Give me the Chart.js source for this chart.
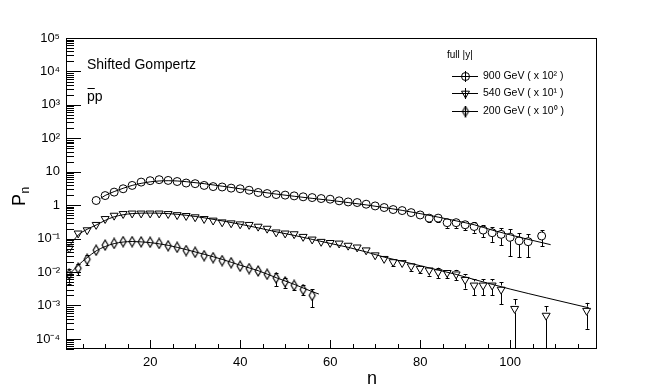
<!DOCTYPE html>
<html><head><meta charset="utf-8">
<script src="https://cdn.jsdelivr.net/npm/chart.js@4/dist/chart.umd.min.js"></script>
<style>html,body{margin:0;padding:0;background:#fff;}#wrap{width:664px;height:388px;}</style>
</head><body><div id="wrap"><canvas id="c" width="664" height="388"></canvas></div>
<script>
// ---- data ----
const n900 = [8,10,12,14,16,18,20,22,24,26,28,30,32,34,36,38,40,42,44,46,48,50,52,54,56,58,60,62,64,66,68,70,72,74,76,78,80,82,84,86,88,90,92,94,96,98,100,102,104,107];
const p900 = [1.38,1.94,2.46,3.1,3.9,4.9,5.4,5.8,5.5,5.1,4.6,4.4,3.9,3.6,3.5,3.24,3.1,2.8,2.4,2.23,2.08,2.0,1.9,1.78,1.69,1.58,1.51,1.35,1.25,1.2,1.07,0.95,0.85,0.74,0.69,0.60,0.51,0.41,0.41,0.30,0.30,0.26,0.23,0.18,0.15,0.134,0.11,0.086,0.081,0.12];
const e900 = [0,0,0,0,0,0,0,0,0,0,0,0,0,0,0,0,0,0,0,0,0,0,0,0,0,0,0,0,0,0,0,0,0,0,0,0,0.06,0.1,0.1,0.09,0.09,0.08,0.08,0.07,0.07,0.07,0.08,0.058,0.053,0.06];

const n540 = [2,4,6,8,10,12,14,16,18,20,22,24,26,28,30,32,34,36,38,40,42,44,46,48,50,52,54,56,58,60,62,64,66,68,70,72,74,76,78,80,82,84,86,88,90,92,94,96,98,101,108,117];
const p540 = [0.051,0.144,0.18,0.26,0.39,0.49,0.55,0.57,0.57,0.57,0.57,0.55,0.51,0.48,0.44,0.39,0.35,0.31,0.29,0.27,0.26,0.23,0.20,0.155,0.144,0.137,0.114,0.095,0.081,0.075,0.072,0.062,0.055,0.045,0.032,0.025,0.020,0.0188,0.015,0.0126,0.0113,0.010,0.0095,0.0086,0.0059,0.0040,0.0040,0.0040,0.0030,0.0008,0.0005,0.0007];
const e540 = [0.008,0,0,0,0,0,0,0,0,0,0,0,0,0,0,0,0,0,0,0,0,0,0,0,0,0,0,0,0,0,0,0,0,0,0,0.003,0.005,0.004,0.004,0.0035,0.0035,0.0035,0.003,0.003,0.0027,0.002,0.002,0.002,0.0019,0.00075,0.00045,0.0005];

const n200 = [2,4,6,8,10,12,14,16,18,20,22,24,26,28,30,32,34,36,38,40,42,44,46,48,50,52,54,56];
const p200 = [0.0085,0.013,0.024,0.045,0.064,0.072,0.081,0.081,0.080,0.078,0.072,0.061,0.055,0.044,0.039,0.031,0.027,0.022,0.019,0.015,0.0127,0.0108,0.0086,0.0067,0.0051,0.0040,0.0030,0.0020];
const e200 = [0.004,0.005,0.008,0,0,0,0,0,0,0,0,0,0,0,0,0,0,0,0,0,0,0.001,0.002,0.003,0.0017,0.0011,0.001,0.0011];

// fitted curves (shifted Gompertz)
const fitN900 = [9,10,12,14,16,18,20,22,24,26,28,32,36,40,44,48,52,56,60,64,68,72,76,80,84,88,92,96,100,104,109];
const fitP900 = [1.6,1.95,2.55,3.2,3.9,4.5,5.0,5.3,5.4,5.3,5.05,4.4,3.7,3.1,2.55,2.15,1.85,1.6,1.4,1.2,1.02,0.85,0.70,0.56,0.44,0.34,0.26,0.18,0.13,0.095,0.066];
const fitN540 = [1.5,2,4,6,8,10,12,16,20,24,28,32,36,40,44,48,52,56,60,64,68,72,76,80,84,88,92,96,100,108,117.5];
const fitP540 = [0.058,0.062,0.128,0.19,0.255,0.35,0.45,0.56,0.58,0.56,0.50,0.42,0.34,0.27,0.21,0.16,0.125,0.095,0.072,0.055,0.040,0.028,0.021,0.0155,0.0115,0.0085,0.006,0.0043,0.0031,0.0017,0.00085];
const fitN200 = [1.5,2,4,6,8,10,12,14,16,18,20,24,28,32,36,40,44,48,52,56,57.5];
const fitP200 = [0.0075,0.0085,0.016,0.027,0.043,0.058,0.071,0.079,0.082,0.080,0.076,0.063,0.047,0.034,0.024,0.016,0.011,0.0068,0.0043,0.0026,0.0022];

const xTicks = [20,40,60,80,100];
const yDecades = [-4,-3,-2,-1,0,1,2,3,4,5];
const legendLabels = ['900 GeV ( x 10² )','540 GeV ( x 10¹ )','200 GeV ( x 10⁰ )'];
const legendHeader = 'full |y|';
const titleText = 'Shifted Gompertz';
const X_MIN = 1.3, X_MAX = 119.3, Y_MIN = 5e-5, Y_MAX = 1e5;

// ---- helpers ----
const pts = (xs, ys) => xs.map((x, i) => ({x, y: ys[i]}));
function diamondImg(){
  const c = document.createElement('canvas'); c.width = 10; c.height = 12;
  const g = c.getContext('2d'); g.strokeStyle = '#000'; g.lineWidth = 1.15;
  g.beginPath(); g.moveTo(5,1); g.lineTo(8,6); g.lineTo(5,11); g.lineTo(2,6); g.closePath(); g.stroke();
  return c;
}
const DIAMOND = diamondImg();
const FONT = '"Liberation Sans", Arial, Helvetica, sans-serif';
const markers = [
  {pointStyle:'circle', radius:4, rotation:0, borderWidth:1},
  {pointStyle:'triangle', radius:4.6, rotation:180, borderWidth:1},
  {pointStyle:DIAMOND, radius:5, rotation:0, borderWidth:1}
];
const series = [
  {n:n900, p:p900, e:e900, fn:fitN900, fp:fitP900},
  {n:n540, p:p540, e:e540, fn:fitN540, fp:fitP540},
  {n:n200, p:p200, e:e200, fn:fitN200, fp:fitP200}
];

const datasets = [];
series.forEach((s, k) => {
  datasets.push({
    label: legendLabels[k] + ' fit', data: pts(s.fn, s.fp), showLine: true,
    borderColor: '#000', borderWidth: 1, pointRadius: 0, cubicInterpolationMode: 'monotone', fill: false, order: 2
  });
});
series.forEach((s, k) => {
  datasets.push({
    label: legendLabels[k], data: pts(s.n, s.p), showLine: false,
    pointStyle: markers[k].pointStyle, pointRadius: markers[k].radius, pointRotation: markers[k].rotation,
    pointBorderWidth: 1, pointBorderColor: '#000', pointBackgroundColor: 'rgba(0,0,0,0)', order: 1,
    errors: s.e, markerIdx: k
  });
});

const supMap = {'-':'⁻','0':'⁰','1':'¹','2':'²','3':'³','4':'⁴','5':'⁵','6':'⁶','7':'⁷','8':'⁸','9':'⁹'};
function decadeLabel(v){
  const e = Math.round(Math.log10(v));
  if (e === 0) return '1';
  if (e === 1) return '10';
  return '10' + String(e).split('').map(c => supMap[c]).join('');
}

const errorBars = {
  id: 'errorBars',
  afterDatasetsDraw(chart){
    const ctx = chart.ctx, xs = chart.scales.x, ys = chart.scales.y, a = chart.chartArea;
    ctx.save();
    ctx.beginPath(); ctx.rect(a.left, a.top, a.right - a.left, a.bottom - a.top); ctx.clip();
    ctx.strokeStyle = '#000'; ctx.lineWidth = 1;
    chart.data.datasets.forEach(ds => {
      if (!ds.errors) return;
      ds.data.forEach((d, i) => {
        const e = ds.errors[i]; if (!e) return;
        const px = Math.round(xs.getPixelForValue(d.x)) + 0.5;
        const py = ys.getPixelForValue(d.y);
        const hi = ys.getPixelForValue(d.y + e);
        const lo = ys.getPixelForValue(Math.max(d.y - e, Y_MIN * 0.5));
        const gap = 4;
        ctx.beginPath();
        if (py - hi > gap){ ctx.moveTo(px, py - gap); ctx.lineTo(px, hi); }
        if (lo - py > gap){ ctx.moveTo(px, py + gap); ctx.lineTo(px, lo); }
        ctx.stroke();
        ctx.beginPath();
        if (py - hi > gap){ ctx.moveTo(px - 2, Math.round(hi) + 0.5); ctx.lineTo(px + 2, Math.round(hi) + 0.5); }
        if (lo - py > gap && lo < a.bottom){ ctx.moveTo(px - 2, Math.round(lo) + 0.5); ctx.lineTo(px + 2, Math.round(lo) + 0.5); }
        ctx.stroke();
      });
    });
    ctx.restore();
  }
};

const frame = {
  id: 'frame',
  afterDraw(chart){
    const ctx = chart.ctx, xs = chart.scales.x, ys = chart.scales.y, a = chart.chartArea;
    ctx.save();
    ctx.strokeStyle = '#000'; ctx.lineWidth = 1;
    ctx.strokeRect(a.left + 0.5, a.top + 0.5, a.right - a.left - 1, a.bottom - a.top - 1);
    ctx.beginPath();
    // y ticks (inside)
    for (let k = -5; k <= 5; k++){
      for (let m = 1; m <= 9; m++){
        const v = m * Math.pow(10, k);
        if (v < Y_MIN || v > Y_MAX) continue;
        const y = Math.round(ys.getPixelForValue(v)) + 0.5;
        const len = (m === 1) ? 15 : 8;
        ctx.moveTo(a.left, y); ctx.lineTo(a.left + len, y);
      }
    }
    // x ticks (inside)
    for (let v = 5; v < X_MAX; v += 5){
      const x = Math.round(xs.getPixelForValue(v)) + 0.5;
      const len = (v % 20 === 0) ? 9 : 5;
      ctx.moveTo(x, a.bottom); ctx.lineTo(x, a.bottom - len);
    }
    ctx.stroke();

    ctx.fillStyle = '#000';
    ctx.textBaseline = 'alphabetic';
    // axis titles
    ctx.font = '18px ' + FONT; ctx.textAlign = 'center';
    ctx.fillText('n', 372, 384);
    ctx.save();
    ctx.translate(25, 196); ctx.rotate(-Math.PI / 2);
    ctx.textAlign = 'left';
    ctx.font = '18px ' + FONT; ctx.fillText('P', -10, 0);
    ctx.font = '12px ' + FONT; ctx.fillText('n', 2.5, 4);
    ctx.restore();

    // annotations
    ctx.textAlign = 'left';
    ctx.font = '14px ' + FONT;
    ctx.fillText(titleText, 87, 69);
    ctx.fillText('pp', 87, 101);
    const pw = ctx.measureText('p').width;
    ctx.beginPath(); ctx.moveTo(87.5, 88.5); ctx.lineTo(87 + pw, 88.5); ctx.stroke();

    // legend
    ctx.font = '10px ' + FONT;
    ctx.textBaseline = 'middle';
    ctx.fillText(legendHeader, 447, 55);
    ctx.font = '10.5px ' + FONT;
    const rows = [76, 93, 111];
    rows.forEach((ry, k) => {
      const y = ry + 0.5;
      ctx.beginPath();
      ctx.moveTo(452, y); ctx.lineTo(478, y);
      ctx.moveTo(465.5, ry - 5); ctx.lineTo(465.5, ry + 6);
      ctx.stroke();
      ctx.save();
      ctx.fillStyle = 'rgba(0,0,0,0)';
      Chart.helpers.drawPoint(ctx, {pointStyle: markers[k].pointStyle, radius: markers[k].radius, rotation: markers[k].rotation, borderWidth: 1}, 465.5, y);
      ctx.restore();
      ctx.fillText(legendLabels[k], 483, ry);
    });
    ctx.restore();
  }
};

new Chart(document.getElementById('c'), {
  type: 'scatter',
  data: { datasets },
  options: {
    responsive: false, animation: false, devicePixelRatio: 1, events: [],
    layout: { padding: { top: 38, right: 67, left: 0, bottom: 0 } },
    plugins: { legend: { display: false }, tooltip: { enabled: false }, title: { display: false } },
    scales: {
      x: {
        type: 'linear', min: X_MIN, max: X_MAX,
        afterBuildTicks: s => { s.ticks = xTicks.map(v => ({value: v})); },
        afterFit: s => { s.height = 39; },
        grid: { display: false, drawTicks: false },
        border: { display: false },
        ticks: { color: '#000', font: { family: FONT, size: 13 }, padding: 6, maxRotation: 0, autoSkip: false, callback: v => String(v) }
      },
      y: {
        type: 'logarithmic', min: Y_MIN, max: Y_MAX,
        afterBuildTicks: s => { s.ticks = yDecades.map(e => ({value: Math.pow(10, e), major: true})); },
        afterFit: s => { s.width = 66; },
        grid: { display: false, drawTicks: false },
        border: { display: false },
        ticks: { color: '#000', font: { family: FONT, size: 13 }, padding: 6, autoSkip: false, callback: v => decadeLabel(v) }
      }
    }
  },
  plugins: [errorBars, frame]
});
</script>
</body></html>
